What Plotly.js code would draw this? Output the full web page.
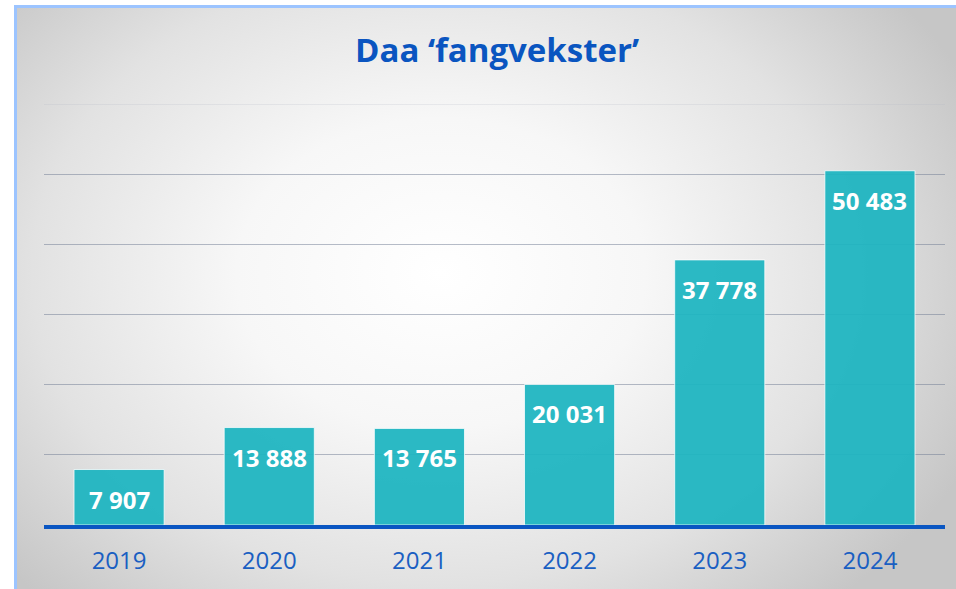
<!DOCTYPE html>
<html>
<head>
<meta charset="utf-8">
<script src="https://cdn.plot.ly/plotly-3.0.1.min.js"></script>
<style>
  html, body { margin: 0; padding: 0; background: #ffffff; width: 956px; height: 589px; overflow: hidden; }
  #frame {
    position: absolute; left: 14px; top: 5px; width: 942px; height: 590px;
    border-top: 3px solid #9cc4ff; border-left: 3px solid #9cc4ff;
    background: radial-gradient(ellipse 62% 75% at 45% 45%, #ffffff 0%, #f7f7f7 35%, #e2e2e2 70%, #c6c6c6 100%);
  }
  #chart { position: absolute; left: 0; top: 0; width: 956px; height: 589px; }
</style>
</head>
<body>
<div id="frame"></div>
<div id="chart"></div>
<script>
const years = ['2019', '2020', '2021', '2022', '2023', '2024'];
const values = [7907, 13888, 13765, 20031, 37778, 50483];
const gridTicks = [0, 10000, 20000, 30000, 40000, 50000, 60000];

function fmt(v) {
  return String(v).replace(/\B(?=(\d{3})+(?!\d))/g, ' ');
}

const trace = {
  type: 'bar',
  x: years,
  y: values,
  marker: { color: 'rgba(30,181,192,0.94)', line: { color: 'rgba(255,255,255,0.75)', width: 1 } },
  hoverinfo: 'none'
};

const annotations = years.map((yr, i) => ({
  x: i, y: values[i], xref: 'x', yref: 'y',
  text: '<b>' + fmt(values[i]) + '</b>',
  showarrow: false, yanchor: 'top', yshift: -11,
  font: { family: 'Open Sans, sans-serif', size: 24, color: '#ffffff' }
}));

const topGrid = gridTicks[gridTicks.length - 1];

const layout = {
  width: 956, height: 589,
  margin: { l: 44, r: 11, t: 104, b: 64 },
  paper_bgcolor: 'rgba(0,0,0,0)',
  plot_bgcolor: 'rgba(0,0,0,0)',
  title: {
    text: '<b>Daa ‘fangvekster’</b>',
    x: 0.52, xanchor: 'center', y: 0.915, yanchor: 'middle',
    font: { family: 'Open Sans, sans-serif', size: 33, color: '#0a55c0' }
  },
  bargap: 0.4,
  showlegend: false,
  xaxis: {
    type: 'category',
    categoryorder: 'array', categoryarray: years,
    range: [-0.5, years.length - 0.5],
    showgrid: false,
    showline: true, linecolor: '#0a56c2', linewidth: 4,
    ticks: 'outside', ticklen: 11, tickcolor: 'rgba(0,0,0,0)',
    tickfont: { family: 'Open Sans, sans-serif', size: 24, color: '#1a5fc2' }
  },
  yaxis: {
    range: [0, topGrid],
    tickvals: gridTicks,
    showticklabels: false,
    showgrid: true, gridcolor: 'rgba(110,122,145,0.5)', gridwidth: 1,
    zeroline: false, showline: false,
    layer: 'above traces'
  },
  shapes: [{
    type: 'line', xref: 'paper', yref: 'y', x0: 0, x1: 1, y0: topGrid, y1: topGrid,
    line: { color: 'rgba(180,185,195,0.45)', width: 1 }
  }],
  annotations: annotations
};

Plotly.newPlot('chart', [trace], layout, { displayModeBar: false, staticPlot: true });
</script>
</body>
</html>
